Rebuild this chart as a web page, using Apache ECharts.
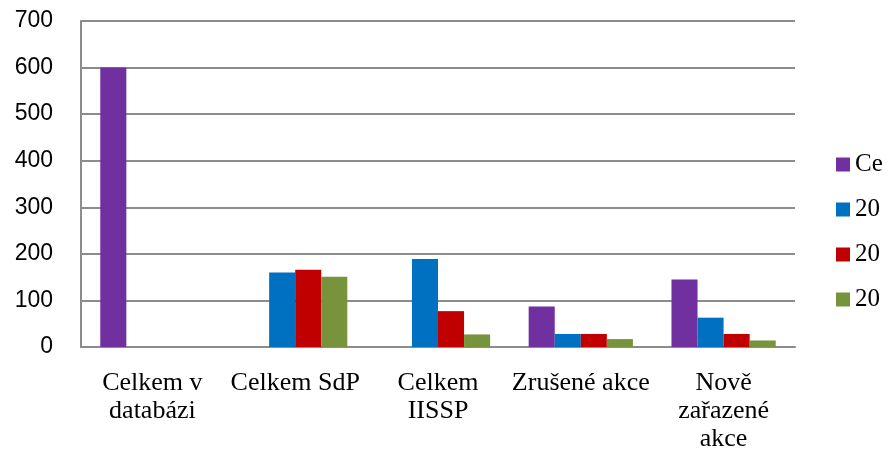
<!DOCTYPE html>
<html>
<head>
<meta charset="utf-8">
<script src="https://cdn.jsdelivr.net/npm/echarts@6/dist/echarts.min.js"></script>
<style>
  html, body { margin: 0; padding: 0; background: #ffffff; }
  #chart { width: 893px; height: 468px; }
</style>
</head>
<body>
<div id="chart"></div>
<script>
// Categories on the x axis (line breaks as printed under each group)
const categories = [
  'Celkem v\ndatabázi',
  'Celkem SdP',
  'Celkem\nIISSP',
  'Zrušené akce',
  'Nově\nzařazené\nakce'
];

// Series names (legend text is cut short in the layout)
const seriesNames = ['Celkem', '2011', '2012', '2013'];

// Values per series, one entry per category
const totalValues = [600, null, null, 87, 145];
const year1Values = [null, 160, 189, 28, 63];
const year2Values = [null, 166, 77, 28, 28];
const year3Values = [null, 151, 27, 17, 14];

// Value axis ticks
const yTicks = [0, 100, 200, 300, 400, 500, 600, 700];

const colors = ['#7030A0', '#0070C0', '#C00000', '#77933C'];
const seriesValues = [totalValues, year1Values, year2Values, year3Values];

const chart = echarts.init(document.getElementById('chart'), null, { renderer: 'canvas' });

const gridLine = { color: '#8c8c8c', width: 2 };

chart.setOption({
  animation: false,
  color: colors,
  grid: { left: 81, right: 98, top: 21, bottom: 121, containLabel: false },
  legend: {
    orient: 'vertical',
    left: 831,
    top: 147,
    padding: 5,
    itemWidth: 14,
    itemHeight: 14,
    itemGap: 20,
    icon: 'rect',
    data: seriesNames,
    textStyle: {
      fontFamily: 'Liberation Serif, Times New Roman, serif',
      fontSize: 25,
      lineHeight: 25,
      color: '#000000',
      width: 30,
      overflow: 'truncate',
      ellipsis: ''
    }
  },
  xAxis: {
    type: 'category',
    data: categories,
    axisLine: { show: true, lineStyle: gridLine },
    axisTick: { show: false },
    axisLabel: {
      interval: 0,
      margin: 22,
      fontFamily: 'Liberation Serif, Times New Roman, serif',
      fontSize: 26,
      lineHeight: 28,
      color: '#000000'
    },
    splitLine: { show: false }
  },
  yAxis: {
    type: 'value',
    min: yTicks[0],
    max: yTicks[yTicks.length - 1],
    interval: yTicks[1] - yTicks[0],
    axisLine: { show: true, lineStyle: gridLine },
    axisTick: { show: false },
    axisLabel: {
      margin: 28,
      fontFamily: 'Liberation Sans, Arial, sans-serif',
      fontSize: 23,
      color: '#000000'
    },
    splitLine: { show: true, lineStyle: gridLine }
  },
  series: seriesNames.map((name, i) => ({
    name: name,
    type: 'bar',
    data: seriesValues[i],
    barGap: '0%',
    barCategoryGap: '27%',
    itemStyle: { color: colors[i] }
  }))
});
</script>
</body>
</html>
